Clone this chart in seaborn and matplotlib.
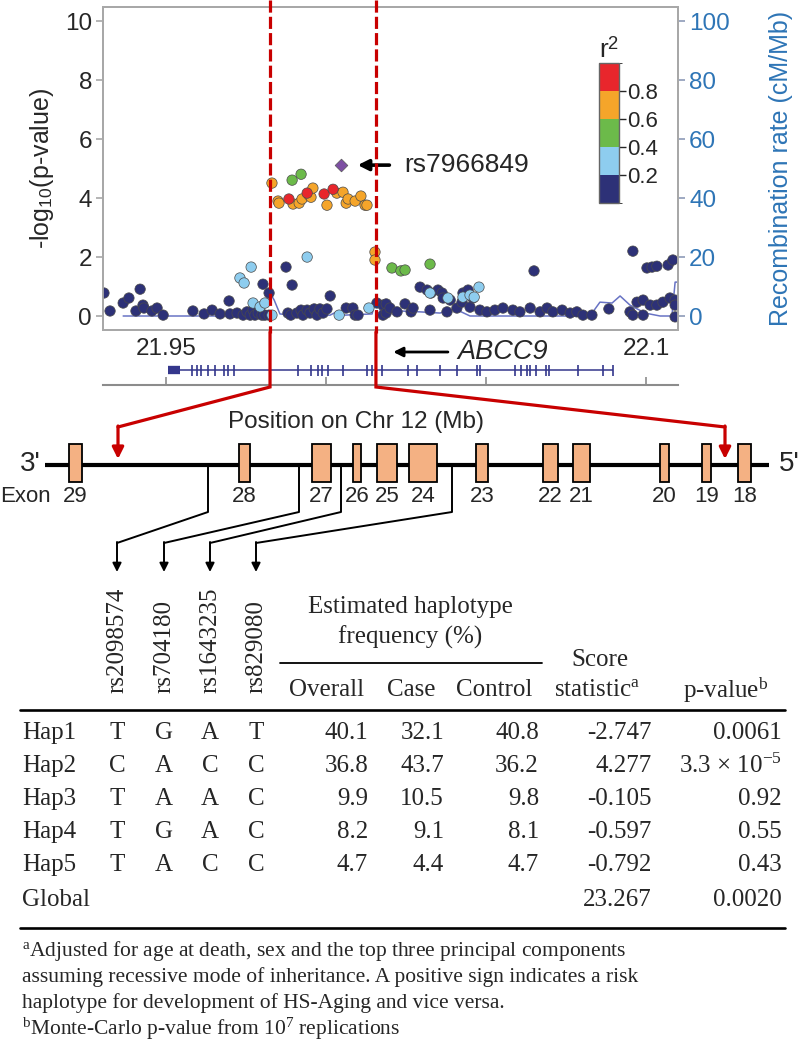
import numpy as np
import pandas as pd
import seaborn as sns
import matplotlib.pyplot as plt
from matplotlib.colors import ListedColormap, BoundaryNorm
from matplotlib.cm import ScalarMappable

# ---------------- association data (Mb, -log10 p) by LD bin ----------------
navy_pos = [21.9306, 21.9325, 21.9366, 21.9384, 21.9406, 21.9419, 21.9428, 21.9431, 21.9456, 21.9472,
            21.9491, 21.9584, 21.9619, 21.9644, 21.9669, 21.9697, 21.9700, 21.9722, 21.9741, 21.9753,
            21.9763, 21.9772, 21.9778, 21.9788, 21.9800, 21.9803, 21.9809, 21.9822, 21.9822,
            21.9875, 21.9881, 21.9890, 21.9894, 21.9909, 21.9922, 21.9928, 21.9941, 21.9950, 21.9963,
            21.9972, 21.9981, 21.9991, 22.0003, 22.0013, 22.0063, 22.0084, 22.0091, 22.0100, 22.0159,
            22.0178, 22.0178, 22.0188, 22.0188,
            22.0200, 22.0222, 22.0247, 22.0266, 22.0272, 22.0294, 22.0316, 22.0325, 22.0328, 22.0350,
            22.0363, 22.0366, 22.0378, 22.0388, 22.0409, 22.0425, 22.0428, 22.0444, 22.0450, 22.0459,
            22.0481, 22.0503, 22.0528, 22.0553, 22.0584, 22.0606, 22.0638, 22.0650, 22.0669, 22.0691,
            22.0709, 22.0738, 22.0763, 22.0784, 22.0803, 22.0831, 22.0884, 22.0950, 22.0959, 22.0959,
            22.0972, 22.0991, 22.0991, 22.1003, 22.1013, 22.1019, 22.1034, 22.1034, 22.1053, 22.1069,
            22.1075, 22.1084, 22.1091, 22.1091, 22.1091]
navy_logp = [0.78, 0.17, 0.44, 0.61, 0.17, 0.91, 0.37, 0.27, 0.17, 0.27,
             0.03, 0.17, 0.07, 0.20, 0.07, 0.51, 0.07, 0.10, 0.03, 0.14,
             0.03, 0.20, 0.03, 0.10, 0.03, 1.08, 0.03, 0.78, 0.03,
             1.66, 0.10, 0.03, 1.05, 0.10, 0.20, 0.03, 0.20, 0.10, 0.24,
             0.03, 0.24, 0.10, 0.24, 0.68, 0.27, 0.27, 0.03, 0.03, 0.44,
             0.37, 0.03, 0.41, 0.10,
             0.27, 0.14, 0.41, 0.14, 0.27, 0.98, 0.88, 0.20, 0.78, 0.88,
             0.78, 0.61, 0.14, 0.54, 0.27, 0.47, 0.78, 0.88, 0.30, 0.61,
             0.20, 0.14, 0.20, 0.27, 0.20, 0.14, 0.27, 1.53, 0.14, 0.27,
             0.14, 0.20, 0.10, 0.14, 0.03, 0.03, 0.24, 0.14, 2.20, 0.03,
             0.47, 0.54, 0.03, 1.63, 0.37, 1.66, 1.69, 0.37, 0.47, 1.73,
             0.61, 1.90, 0.54, 0.37, -0.03]
lblue_pos = [21.9731, 21.9744, 21.9766, 21.9772, 21.9794, 21.9809, 21.9831, 21.9941,
             22.0041, 22.0134, 22.0325, 22.0381, 22.0428, 22.0450, 22.0463, 22.0478]
lblue_logp = [1.29, 1.12, 1.66, 0.44, 0.31, 0.44, 0.03, 2.00,
              0.03, 0.27, 0.78, 0.61, 0.64, 0.71, 0.64, 0.98]
green_pos = [21.9894, 21.9922, 22.0206, 22.0234, 22.0247, 22.0325]
green_logp = [4.61, 4.81, 1.63, 1.53, 1.56, 1.76]
orange_pos = [21.9831, 21.9850, 21.9853, 21.9897, 21.9916, 21.9925, 21.9947, 21.9953, 21.9959, 22.0003,
              22.0034, 22.0053, 22.0063, 22.0069, 22.0091, 22.0109, 22.0122, 22.0128, 22.0153, 22.0153]
orange_logp = [4.51, 3.90, 3.83, 3.80, 3.83, 3.97, 4.10, 4.03, 4.34, 3.76,
               4.17, 4.20, 3.83, 3.97, 3.90, 4.07, 3.76, 3.76, 2.17, 1.90]
red_pos = [21.9884, 21.9941, 21.9994, 22.0022]
red_logp = [3.97, 4.17, 4.14, 4.30]
lead_pos, lead_logp, lead_name = 22.0047, 5.12, 'rs7966849'

# recombination rate (cM/Mb)
recomb_pos = [21.9366, 21.9731, 21.9778, 21.9809, 21.9825, 21.9838, 21.9856, 21.9919, 22.0013, 22.0038,
              22.0059, 22.0144, 22.0156, 22.0169, 22.0294, 22.0356, 22.0403, 22.0450, 22.0825, 22.0856,
              22.0894, 22.0919, 22.0950, 22.0997, 22.1044, 22.1081, 22.1091, 22.1100]
recomb_rate = [0, 0, 0.7, 3.4, 7.8, 5.4, 0.7, 0, 0.3, 1.7,
               0.3, 0.7, 6.1, 2.0, 1.4, 1.0, 2.4, 0, 0, 4.7,
               4.4, 6.8, 3.7, 1.0, 0, 0, 11.5, 11.5]

# ABCC9 gene model (Mb)
gene_start, gene_end, gene_utr = 21.9506, 22.0897, 21.9544
exon_marks = [21.9581, 21.9597, 21.9609, 21.9631, 21.9653, 21.9681, 21.9694, 21.9713, 21.9913, 21.9953,
              21.9975, 21.9988, 22.0006, 22.0053, 22.0128, 22.0144, 22.0175, 22.0256, 22.0284, 22.0356,
              22.0409, 22.0472, 22.0481, 22.0591, 22.0609, 22.0628, 22.0638, 22.0656, 22.0688, 22.0697,
              22.0788, 22.0866, 22.0897]
region = [21.9825, 22.0156]
axis_ticks = [21.95, 22.0, 22.05, 22.1]
axis_ticklabels = ['21.95', '', '', '22.1']

# exon schematic
exon_num = [29, 28, 27, 26, 25, 24, 23, 22, 21, 20, 19, 18]
exon_left = [69, 239, 312, 353, 377, 409, 476, 543, 573, 660, 702, 738]
exon_right = [82, 250, 331, 361, 397, 437, 488, 558, 590, 669, 711, 751]

# haplotype table
snp_ids = ['rs2098574', 'rs704180', 'rs1643235', 'rs829080']
snp_on_gene = [208, 299, 341, 452]
haps = ['Hap1', 'Hap2', 'Hap3', 'Hap4', 'Hap5']
alleles = ['TGAT', 'CACC', 'TAAC', 'TGAC', 'TACC']
freq_overall = ['40.1', '36.8', '9.9', '8.2', '4.7']
freq_case = ['32.1', '43.7', '10.5', '9.1', '4.4']
freq_control = ['40.8', '36.2', '9.8', '8.1', '4.7']
score_stat = ['-2.747', '4.277', '-0.105', '-0.597', '-0.792']
p_values = ['0.0061', '3.3 \u00d7 10$^{\\mathrm{-5}}$', '0.92', '0.55', '0.43']
global_score, global_p = '23.267', '0.0020'
footnotes = ['$^{\\mathrm{a}}$Adjusted for age at death, sex and the top three principal components',
             'assuming recessive mode of inheritance. A positive sign indicates a risk',
             'haplotype for development of HS-Aging and vice versa.',
             '$^{\\mathrm{b}}$Monte-Carlo p-value from 10$^{\\mathrm{7}}$ replications']

ld_colors = ['#2D3177', '#8ECDEF', '#6CBA4A', '#F5A52A', '#E8262C']
blue = '#2E75B6'
dark_red = '#C80000'

sns.set_style('white')
plt.rcParams['font.family'] = ['Liberation Sans', 'DejaVu Sans']
plt.rcParams['mathtext.fontset'] = 'custom'
plt.rcParams['mathtext.rm'] = 'Liberation Serif'
plt.rcParams['mathtext.it'] = 'Liberation Serif:italic'
plt.rcParams['mathtext.sf'] = 'Liberation Sans'
serif = ['Liberation Serif', 'DejaVu Serif']

W, H = 800, 1050
fig = plt.figure(figsize=(8, 10.5), dpi=100)


def frame(l, t, r, b):
    return [l / W, 1 - b / H, (r - l) / W, (b - t) / H]


# ---------------- regional association plot ----------------
ld = pd.concat([
    pd.DataFrame({'pos': navy_pos, 'logp': navy_logp, 'bin': 0}),
    pd.DataFrame({'pos': lblue_pos, 'logp': lblue_logp, 'bin': 1}),
    pd.DataFrame({'pos': green_pos, 'logp': green_logp, 'bin': 2}),
    pd.DataFrame({'pos': orange_pos, 'logp': orange_logp, 'bin': 3}),
    pd.DataFrame({'pos': red_pos, 'logp': red_logp, 'bin': 4}),
], ignore_index=True)

ax = fig.add_axes(frame(103, 7, 678, 330))
ax2 = ax.twinx()
sns.lineplot(x=recomb_pos, y=recomb_rate, ax=ax2, color='#6873C4', lw=1.1,
             estimator=None, sort=False)
sns.scatterplot(data=ld, x='pos', y='logp', hue='bin', palette=dict(enumerate(ld_colors)),
                s=56, edgecolor='#4a4a4a', linewidth=0.5, legend=False, ax=ax)
sns.scatterplot(x=[lead_pos], y=[lead_logp], marker='D', color='#7D4FA3', s=42,
                edgecolor='#555555', linewidth=0.5, legend=False, ax=ax)
ax.set_zorder(ax2.get_zorder() + 1)
ax.patch.set_visible(False)

xlim = (21.9303, 22.110)
ax.set_xlim(xlim)
ax.set_ylim(-0.475, 10.485)
ax2.set_ylim(-4.75, 104.85)
ax.set_xticks([])
ax.set_xlabel('')
ax.set_yticks(range(0, 11, 2))
ax2.set_yticks(range(0, 101, 20))
for a in (ax, ax2):
    for sp in a.spines.values():
        sp.set_color('#A8A8A8')
        sp.set_linewidth(1.3)
ax.tick_params(axis='y', left=True, length=5, width=1.2, color='#A8A8A8', labelsize=17.5, pad=3)
ax2.tick_params(axis='y', right=True, length=5, width=1.2, color='#8E9BB8', labelsize=17.5,
                labelcolor=blue, pad=3)
ax.set_ylabel('-log$_{\\mathsf{10}}$(p-value)', fontsize=18, labelpad=6)
ax2.set_ylabel('Recombination rate (cM/Mb)', fontsize=18, color=blue, labelpad=28)

ax.annotate(lead_name, xy=(lead_pos + 0.0052, lead_logp), xytext=(lead_pos + 0.0196, lead_logp),
            fontsize=19, va='center', ha='left',
            arrowprops=dict(arrowstyle='-|>', color='k', lw=2.6, mutation_scale=16,
                            shrinkA=8, shrinkB=0))

# r2 legend
cax = fig.add_axes(frame(599, 63, 619, 203))
cb = fig.colorbar(ScalarMappable(norm=BoundaryNorm([0, .2, .4, .6, .8, 1], 5),
                                 cmap=ListedColormap(ld_colors)),
                  cax=cax, ticks=[0.2, 0.4, 0.6, 0.8])
cb.outline.set_edgecolor('#666666')
cb.outline.set_linewidth(1)
cax.tick_params(labelsize=16, length=5, width=1, pad=1)
cax.set_title('r$^{\\mathsf{2}}$', fontsize=19, pad=4)

# gene track
gax = fig.add_axes(frame(103, 360, 678, 385))
gax.set_xlim(xlim)
gax.set_ylim(0, 1)
gax.hlines(0.6, gene_start, gene_end, color='#34378C', lw=1.1)
gax.hlines(0.6, gene_start, gene_utr, color='#34378C', lw=6)
gax.vlines(exon_marks, 0.38, 0.82, color='#34378C', lw=1.2)
for k in ('left', 'right', 'top'):
    gax.spines[k].set_visible(False)
gax.spines['bottom'].set_color('#8C8C8C')
gax.spines['bottom'].set_linewidth(1.5)
gax.set_yticks([])
gax.set_xticks(axis_ticks)
gax.set_xticklabels(axis_ticklabels)
gax.tick_params(axis='x', direction='in', bottom=True, top=False, labelbottom=False,
                labeltop=True, length=6, width=1.2, color='#8C8C8C', labelsize=17.5, pad=0)
gax.patch.set_visible(False)
tr = gax.get_xaxis_transform()
gax.text(22.0553, 1.32, 'ABCC9', transform=tr, fontsize=19.5, style='italic',
         ha='center', va='center')
gax.annotate('', xy=(22.0210, 1.32), xytext=(22.0381, 1.32), xycoords=tr, textcoords=tr,
             arrowprops=dict(arrowstyle='-|>', color='k', lw=2, mutation_scale=14,
                             shrinkA=0, shrinkB=0), annotation_clip=False)

# ---------------- overlay in pixel space ----------------
oax = fig.add_axes([0, 0, 1, 1], zorder=10)
oax.set_xlim(0, W)
oax.set_ylim(H, 0)
oax.axis('off')

region_px = [ax.transData.transform((x, 0))[0] for x in region]
targets = [118, 725]
for px, tx in zip(region_px, targets):
    oax.plot([px, px], [0, 333], color=dark_red, lw=2.3, ls=(0, (3.8, 1.3)))
    oax.plot([px, px, tx], [332, 387, 427], color=dark_red, lw=2.3, solid_joinstyle='miter')
    oax.annotate('', xy=(tx, 459), xytext=(tx, 426),
                 arrowprops=dict(arrowstyle='-|>', color=dark_red, lw=2.3, mutation_scale=17,
                                 shrinkA=0, shrinkB=0))

oax.text(356, 422, 'Position on Chr 12 (Mb)', fontsize=17.5, ha='center', va='center')

# exon diagram
oax.plot([45, 769], [465, 465], color='k', lw=3, solid_capstyle='butt')
centers = [(l + r) / 2 for l, r in zip(exon_left, exon_right)]
widths = [r - l for l, r in zip(exon_left, exon_right)]
oax.bar(centers, 38, width=widths, bottom=444, color='#F4B183', edgecolor='k', lw=1.3, zorder=3)
for c, n in zip(centers, exon_num):
    oax.text(c, 497, str(n), fontsize=16, ha='center', va='center')
oax.text(25, 497, 'Exon', fontsize=16, ha='center', va='center')
oax.text(41, 464, "3'", fontsize=20, ha='right', va='center')
oax.text(779, 464, "5'", fontsize=20, ha='left', va='center')

# SNP connectors
table_x = [117, 164, 210, 256]
for sx, tx in zip(snp_on_gene, table_x):
    oax.plot([sx, sx, tx], [466, 512, 543], color='k', lw=1.4)
    oax.annotate('', xy=(tx, 572), xytext=(tx, 542),
                 arrowprops=dict(arrowstyle='-|>', color='k', lw=1.4, mutation_scale=13,
                                 shrinkA=0, shrinkB=0))

# ---------------- haplotype table ----------------
tfs = 18
for name, x in zip(snp_ids, table_x):
    oax.text(x, 693, name, rotation=90, ha='center', va='bottom', fontsize=tfs, family=serif)
oax.text(410, 607, 'Estimated haplotype', ha='center', va='center', fontsize=tfs, family=serif)
oax.text(410, 637, 'frequency (%)', ha='center', va='center', fontsize=tfs, family=serif)
oax.plot([280, 542], [663, 663], color='k', lw=1.3)
oax.text(600, 660, 'Score', ha='center', va='center', fontsize=tfs, family=serif)
oax.text(597, 690, 'statistic$^{\\mathrm{a}}$', ha='center', va='center', fontsize=tfs, family=serif)
oax.text(726, 690, 'p-value$^{\\mathrm{b}}$', ha='center', va='center', fontsize=tfs, family=serif)
for lab, x in zip(['Overall', 'Case', 'Control'], [327, 411, 494]):
    oax.text(x, 690, lab, ha='center', va='center', fontsize=tfs, family=serif)
oax.plot([20, 785], [710, 710], color='k', lw=1.9)

row_y = [733, 766, 799, 832, 865]
num_cols = [(368, freq_overall), (444, freq_case), (539, freq_control),
            (652, score_stat), (782, p_values)]
for i, y in enumerate(row_y):
    oax.text(22, y, haps[i], ha='left', va='center', fontsize=tfs, family=serif)
    for x, al in zip(table_x, alleles[i]):
        oax.text(x, y, al, ha='center', va='center', fontsize=tfs, family=serif)
    for x, col in num_cols:
        oax.text(x, y, col[i], ha='right', va='center', fontsize=tfs, family=serif)
oax.text(22, 900, 'Global', ha='left', va='center', fontsize=tfs, family=serif)
oax.text(652, 900, global_score, ha='right', va='center', fontsize=tfs, family=serif)
oax.text(782, 900, global_p, ha='right', va='center', fontsize=tfs, family=serif)
oax.plot([20, 785], [928, 928], color='k', lw=1.9)

for k, line in enumerate(footnotes):
    oax.text(22, 951 + k * 26, line, ha='left', va='center', fontsize=15.5, family=serif)

fig.savefig('out.png', dpi=100)
